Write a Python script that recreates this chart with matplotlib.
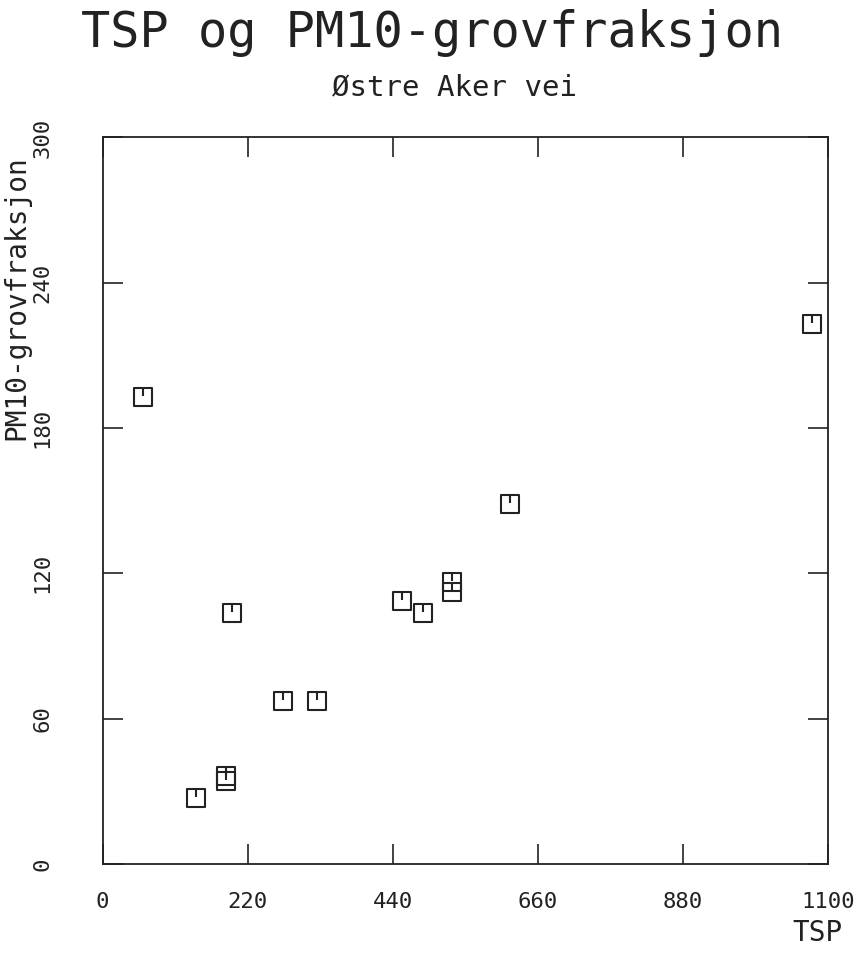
import matplotlib.pyplot as plt
import numpy as np
from matplotlib.path import Path

# Data (TSP vs PM10 coarse fraction)
tsp = [61, 1076, 618, 197, 454, 486, 530, 530, 273, 325, 187, 187, 142]
pm10_grov = [192.7, 222.9, 148.6, 103.6, 108.5, 103.6, 116.4, 112.3, 67.3, 67.3, 36.3, 34.3, 27.4]

xticks = [0, 220, 440, 660, 880, 1100]
yticks = [0, 60, 120, 180, 240, 300]

ink = '#222222'
font = 'DejaVu Sans Mono'

# square marker with a small stroke from the top edge to the centre
verts = [(-1, -1), (1, -1), (1, 1), (-1, 1), (-1, -1), (0, 1), (0, 0.1)]
codes = [Path.MOVETO, Path.LINETO, Path.LINETO, Path.LINETO, Path.CLOSEPOLY,
         Path.MOVETO, Path.LINETO]
box_marker = Path(verts, codes)

fig = plt.figure(figsize=(8.63, 9.58), dpi=100)
ax = fig.add_axes([0.1188, 0.0981, 0.8406, 0.7584])

ax.plot(tsp, pm10_grov, linestyle='none', marker=box_marker, markersize=13,
        markerfacecolor='none', markeredgecolor=ink, markeredgewidth=1.5)

ax.set_xlim(0, 1100)
ax.set_ylim(0, 300)
ax.set_xticks(xticks)
ax.set_yticks(yticks)
ax.set_xticklabels([str(t) for t in xticks], fontfamily=font, fontsize=16, color=ink)
ax.set_yticklabels([str(t) for t in yticks], fontfamily=font, fontsize=16, color=ink,
                   rotation=90, va='center')

ax.tick_params(axis='both', direction='in', length=14.5, width=1.2, color=ink,
               top=True, right=True)
ax.tick_params(axis='x', pad=20)
ax.tick_params(axis='y', pad=36)

for s in ax.spines.values():
    s.set_linewidth(1.3)
    s.set_color(ink)

ax.set_xlabel('TSP', fontfamily=font, fontsize=20, color=ink)
ax.xaxis.set_label_coords(0.985, -0.075)
ax.set_ylabel('PM10-grovfraksjon', fontfamily=font, fontsize=20, color=ink)
ax.yaxis.set_label_coords(-0.1, 0.78)

fig.text(0.5, 0.966, 'TSP og PM10-grovfraksjon', fontfamily=font, fontsize=35,
         color=ink, ha='center', va='center')
fig.text(0.527, 0.909, 'Østre Aker vei', fontfamily=font, fontsize=21,
         color=ink, ha='center', va='center')

fig.savefig('out.png', dpi=100, facecolor='white')
